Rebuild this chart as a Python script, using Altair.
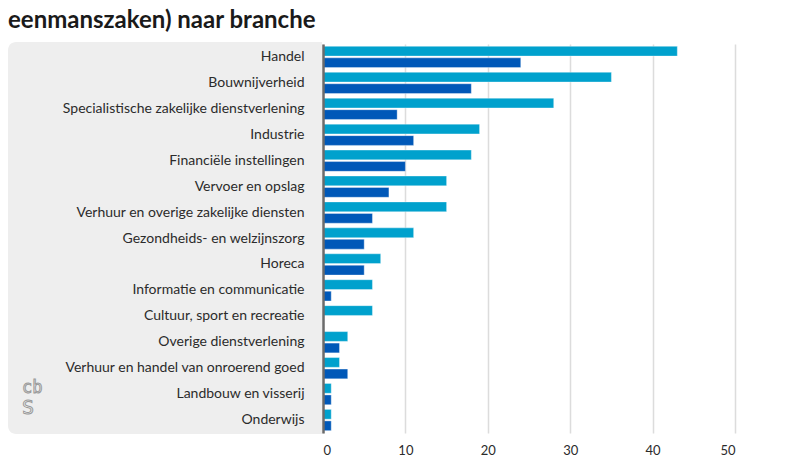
import altair as alt
import pandas as pd

categories = [
    "Handel",
    "Bouwnijverheid",
    "Specialistische zakelijke dienstverlening",
    "Industrie",
    "Financiële instellingen",
    "Vervoer en opslag",
    "Verhuur en overige zakelijke diensten",
    "Gezondheids- en welzijnszorg",
    "Horeca",
    "Informatie en communicatie",
    "Cultuur, sport en recreatie",
    "Overige dienstverlening",
    "Verhuur en handel van onroerend goed",
    "Landbouw en visserij",
    "Onderwijs",
]
series_names = ["Periode 1", "Periode 2"]
series_light = [43, 35, 28, 19, 18, 15, 15, 11, 7, 6, 6, 3, 2, 1, 1]
series_dark = [24, 18, 9, 11, 10, 8, 6, 5, 5, 1, 0, 2, 3, 1, 1]
colors = ["#00a1cd", "#0058b8"]
x_ticks = [0, 10, 20, 30, 40, 50]
title_text = "eenmanszaken) naar branche"

rows = []
for c, a, b in zip(categories, series_light, series_dark):
    rows.append({"branche": c, "reeks": series_names[0], "waarde": a})
    rows.append({"branche": c, "reeks": series_names[1], "waarde": b})
df = pd.DataFrame(rows)
df = df[df["waarde"] > 0]

W = 412
H = 389
FONT = "Lato"

bars = alt.Chart(df).mark_bar(stroke="#ffffff", strokeOpacity=0.35, strokeWidth=1).encode(
    y=alt.Y(
        "branche:N",
        sort=categories,
        title=None,
        scale=alt.Scale(paddingInner=0.18, paddingOuter=0.09),
        axis=alt.Axis(
            domain=True,
            domainColor="#6b6b6b",
            domainWidth=2.5,
            ticks=False,
            labelPadding=19,
            labelFontSize=14,
            labelColor="#2b2b2b",
            labelFont=FONT,
            labelLimit=400,
            zindex=2,
        ),
    ),
    yOffset=alt.YOffset("reeks:N", sort=series_names, scale=alt.Scale(paddingInner=0.15)),
    x=alt.X(
        "waarde:Q",
        title=None,
        scale=alt.Scale(domain=[0, 50], nice=False),
        axis=alt.Axis(
            values=x_ticks,
            domain=False,
            ticks=False,
            grid=True,
            gridColor="#dcdcdc",
            gridWidth=1.5,
            labelPadding=11,
            labelFontSize=13,
            labelColor="#2b2b2b",
            labelFont=FONT,
            format="d",
        ),
    ),
    color=alt.Color("reeks:N", sort=series_names,
                    scale=alt.Scale(domain=series_names, range=colors), legend=None),
)

one = pd.DataFrame({"k": [0]})

panel = alt.Chart(one).mark_rect(
    color="#eeeeee", cornerRadiusTopLeft=8, cornerRadiusBottomLeft=8
).encode(
    x=alt.value(-315), x2=alt.value(-1), y=alt.value(-2), y2=alt.value(H + 1)
)

title = alt.Chart(one).mark_text(
    text=title_text, align="left", baseline="alphabetic",
    font=FONT, fontSize=24, fontWeight="bold", color="#1a1a1a"
).encode(x=alt.value(-315), y=alt.value(-16))

logo_top = alt.Chart(one).mark_text(
    text="cb", align="left", baseline="alphabetic",
    font="DejaVu Sans Mono", fontSize=17, fill="#eeeeee", stroke="#9a9a9a", strokeWidth=1
).encode(x=alt.value(-301), y=alt.value(349))

logo_bot = alt.Chart(one).mark_text(
    text="S", align="left", baseline="alphabetic",
    font="DejaVu Sans Mono", fontSize=20, fill="#eeeeee", stroke="#9a9a9a", strokeWidth=1
).encode(x=alt.value(-301), y=alt.value(370))

chart = alt.layer(panel, bars, title, logo_top, logo_bot).properties(
    width=W,
    height=H,
    autosize=alt.AutoSizeParams(type="none"),
    padding={"left": 315, "top": 36, "right": 45, "bottom": 30},
).configure_view(stroke=None).resolve_scale(x="shared", y="shared")

chart.save("out.html", embed_options={"renderer": "svg", "actions": False})
